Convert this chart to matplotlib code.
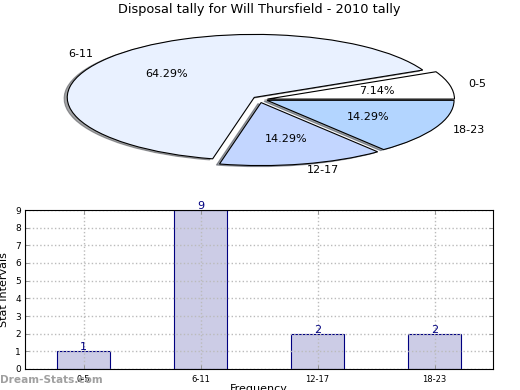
import matplotlib
matplotlib.use("Agg")
import matplotlib.pyplot as plt

# data
intervals = ["0-5", "6-11", "12-17", "18-23"]
counts = [1, 9, 2, 2]
explode = [0.03, 0.053, 0.05, 0.03]
pie_colors = ["#ffffff", "#e9f1ff", "#c3d6ff", "#b3d5ff"]
yticks = [0, 1, 2, 3, 4, 5, 6, 7, 8, 9]

W, H = 520.0, 390.0

fig = plt.figure(figsize=(5.2, 3.9), dpi=100)
fig.patch.set_facecolor("white")

# === PIE ===
ax1 = fig.add_axes([28.25 / W, 1 - 178.25 / H, 467.5 / W, 157.5 / H])
wedges, texts, pcts = ax1.pie(counts, labels=intervals, colors=pie_colors, explode=explode,
                              autopct="%.2f%%", shadow={"ox": -0.012, "oy": -0.012}, startangle=0,
                              wedgeprops={"edgecolor": "black", "linewidth": 0.8},
                              textprops={"fontsize": 8})
ax1.set_aspect("auto")
ax1.set_xlim(-1.25, 1.25)
ax1.set_ylim(-1.25, 1.25)

# 12-17 sits a little further left in the original
cx, cy = wedges[2].center
wedges[2].set_center((cx - 0.016, cy))
for t in (texts[2], pcts[2]):
    tx, ty = t.get_position()
    t.set_position((tx - 0.016, ty))

fig.text(259.5 / W, 1 - 10 / H, "Disposal tally for Will Thursfield - 2010 tally",
         ha="center", va="center", fontsize=9.3)

# === BARS ===
ax2 = fig.add_axes([25 / W, 1 - 369 / H, 468 / W, 159 / H])
x = range(len(counts))
ax2.bar(x, counts, width=0.455, color="#cccce6", edgecolor="navy", linewidth=0.8, zorder=1)
ax2.grid(True, linestyle=":", color="#bbbbbb", linewidth=1.0)
ax2.set_axisbelow(False)
for spine in ax2.spines.values():
    spine.set_zorder(5)
ax2.set_xlim(-0.5, 3.5)
ax2.set_ylim(0, 9)
ax2.set_xticks(list(x))
ax2.set_xticklabels(intervals, fontsize=6)
ax2.set_yticks(yticks)
ax2.tick_params(axis="y", labelsize=6.5, direction="in", length=3, right=True, pad=3, width=0.6, color="#888888")
ax2.tick_params(axis="x", direction="in", length=3, top=True, pad=4.5, width=0.6, color="#888888")
ax2.set_ylabel("Stat Intervals", fontsize=8)
ax2.yaxis.set_label_coords(-16 / 468, 0.5)
for i, c in zip(x, counts):
    ax2.text(i, c - 0.05, str(c), ha="center", va="bottom", fontsize=8, color="navy", clip_on=False)
fig.text(259 / W, 1 - 389 / H, "Frequency", ha="center", va="center", fontsize=8)

fig.text(0 / W, 1 - 380 / H, "Dream-Stats.com", ha="left", va="center", fontsize=7.6,
         fontweight="bold", color="#a0a0a0")

plt.savefig("out.png", dpi=100)
